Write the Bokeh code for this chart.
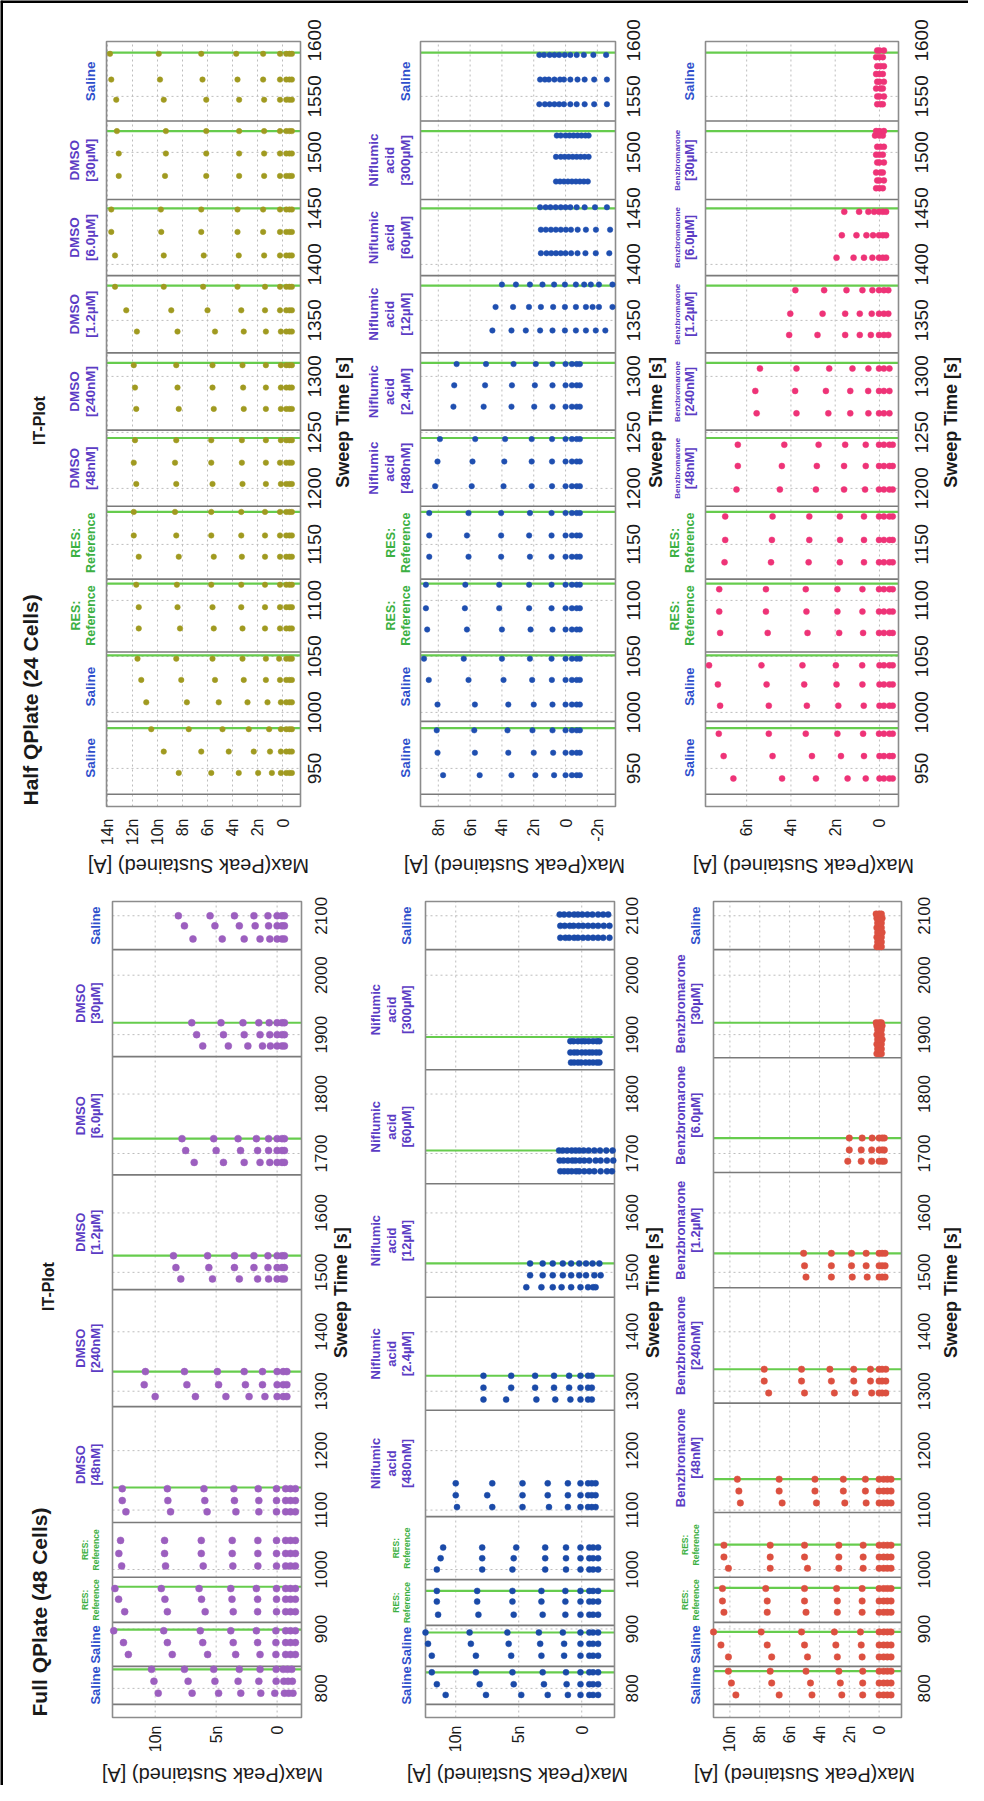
import math
from bokeh.plotting import figure
from bokeh.models import Range1d, ColumnDataSource
from bokeh.core.properties import value
from bokeh.embed import file_html
from bokeh.resources import INLINE

FONT = "Liberation Sans"
SALINE_C = "#2f4fcc"
RES_C = "#3cb043"
DRUG_C = "#5b3cc4"
GREEN_LINE = "#66cc4d"
FACET_LINE = "#7a7a7a"
FRAME_C = "#8c8c8c"
GRID_C = "#bdbdbd"
INK = "#1a1a1a"

# ---------------- axes ----------------
FULL_TIME_TICKS = [800, 900, 1000, 1100, 1200, 1300, 1400, 1500, 1600, 1700, 1800, 1900, 2000, 2100]
HALF_TIME_TICKS = [950, 1000, 1050, 1100, 1150, 1200, 1250, 1300, 1350, 1400, 1450, 1500, 1550, 1600]
FULL_TIME_RANGE = (751, 2124)
HALF_TIME_RANGE = (916, 1599)

FULL_PURPLE_TICKS = [0, 5, 10]
FULL_BLUE_TICKS = [0, 5, 10]
FULL_RED_TICKS = [0, 2, 4, 6, 8, 10]
HALF_OLIVE_TICKS = [0, 2, 4, 6, 8, 10, 12, 14]
HALF_BLUE_TICKS = [-2, 0, 2, 4, 6, 8]
HALF_PINK_TICKS = [0, 2, 4, 6]

FULL_PURPLE_RANGE = (13.5, -2.0)
FULL_BLUE_RANGE = (12.4, -2.6)
FULL_RED_RANGE = (11.1, -1.5)
HALF_OLIVE_RANGE = (14.08, -1.44)
HALF_BLUE_RANGE = (9.12, -3.14)
HALF_PINK_RANGE = (7.86, -0.86)

# ---------------- facets ----------------
FULL_PURPLE_LABELS = ["Saline", "Saline", "RES: Reference", "RES: Reference", "DMSO [48nM]",
                      "DMSO [240nM]", "DMSO [1.2µM]", "DMSO [6.0µM]", "DMSO [30µM]", "Saline"]
FULL_BLUE_LABELS = ["Saline", "Saline", "RES: Reference", "RES: Reference", "Niflumic acid [480nM]",
                    "Niflumic acid [2.4µM]", "Niflumic acid [12µM]", "Niflumic acid [60µM]",
                    "Niflumic acid [300µM]", "Saline"]
FULL_RED_LABELS = ["Saline", "Saline", "RES: Reference", "RES: Reference", "Benzbromarone [48nM]",
                   "Benzbromarone [240nM]", "Benzbromarone [1.2µM]", "Benzbromarone [6.0µM]",
                   "Benzbromarone [30µM]", "Saline"]
HALF_OLIVE_LABELS = FULL_PURPLE_LABELS
HALF_BLUE_LABELS = FULL_BLUE_LABELS
HALF_PINK_LABELS = FULL_RED_LABELS

FULL_PURPLE_FACETS = [773, 837, 911, 987, 1079, 1274, 1471, 1664, 1863, 2043]
FULL_BLUE_FACETS = [773, 837, 906, 983, 1089, 1268, 1458, 1649, 1841, 2043]
FULL_RED_FACETS = [773, 837, 911, 987, 1096, 1280, 1474, 1668, 1861, 2043]
HALF_FACETS = [927, 992, 1054, 1119, 1184, 1252, 1321, 1390, 1458, 1528]

FULL_PURPLE_GREEN = [832, 899, 971, 1138, 1333, 1528, 1725, 1920]
FULL_BLUE_GREEN = [827, 894, 964, 1326, 1515, 1705, 1896]
FULL_RED_GREEN = [829, 895, 969, 1042, 1152, 1337, 1532, 1726, 1920]
HALF_GREEN = [986, 1051, 1115, 1179, 1245, 1312, 1381, 1450, 1519, 1589]

# ---------------- data: sweep time [s] and Max(Peak Sustained) [nA] per sweep ----------------
FULL_PURPLE_T = [792, 812, 832, 857, 877, 897, 929, 950, 968, 1006, 1027, 1049, 1097, 1116, 1136,
                 1291, 1311, 1333, 1489, 1508, 1528, 1685, 1705, 1725, 1881, 1900, 1920, 2061, 2083, 2100]
FULL_PURPLE_V = [
    [9.75, 6.97, 4.8, 2.98, 1.34, 0.19, -0.6, -0.95, -1.3],
    [10.1, 7.3, 5.1, 3.2, 1.5, 0.08, -0.55, -0.9, -1.25],
    [10.3, 7.6, 5.2, 3.1, 1.4, 0.08, -0.5, -0.85, -1.2],
    [12.2, 8.6, 5.7, 3.4, 1.4, 0.1, -0.7, -1.1, -1.5],
    [12.6, 9.0, 6.1, 3.6, 1.6, 0.1, -0.7, -1.1, -1.5],
    [13.4, 9.3, 6.3, 3.8, 1.7, 0.1, -0.7, -1.1, -1.5],
    [12.5, 9.0, 5.9, 3.6, 1.6, 0.05, -0.7, -1.1, -1.5],
    [13.0, 9.2, 6.2, 3.7, 1.6, 0.05, -0.7, -1.1, -1.5],
    [13.3, 9.5, 6.4, 3.8, 1.7, 0.05, -0.7, -1.1, -1.5],
    [12.75, 9.15, 6.06, 3.63, 1.58, 0.05, -0.7, -1.1, -1.5],
    [12.98, 9.23, 6.22, 3.68, 1.58, 0.05, -0.7, -1.1, -1.5],
    [12.84, 9.23, 6.22, 3.68, 1.58, 0.05, -0.7, -1.1, -1.5],
    [12.4, 8.74, 5.74, 3.38, 1.5, 0.05, -0.7, -1.1, -1.5],
    [12.7, 8.96, 5.93, 3.5, 1.5, 0.05, -0.7, -1.1, -1.5],
    [12.7, 9.0, 6.0, 3.55, 1.55, 0.05, -0.7, -1.1, -1.5],
    [10.0, 6.7, 4.2, 2.3, 1.0, 0.0, -0.5, -0.8],
    [10.9, 7.4, 4.8, 2.6, 1.2, 0.0, -0.5, -0.8],
    [10.8, 7.6, 4.9, 2.7, 1.2, 0.0, -0.5, -0.8],
    [7.9, 5.3, 3.1, 1.6, 0.7, 0.0, -0.4, -0.6],
    [8.3, 5.6, 3.5, 1.9, 0.75, 0.0, -0.4, -0.6],
    [8.5, 5.7, 3.5, 1.9, 0.75, 0.0, -0.4, -0.6],
    [6.8, 4.4, 2.7, 1.4, 0.6, 0.0, -0.4, -0.6],
    [7.5, 5.0, 3.0, 1.6, 0.7, 0.0, -0.4, -0.6],
    [7.8, 5.2, 3.2, 1.7, 0.7, 0.0, -0.4, -0.6],
    [6.1, 4.0, 2.4, 1.2, 0.55, 0.0, -0.4, -0.6],
    [6.6, 4.4, 2.7, 1.4, 0.6, 0.0, -0.4, -0.6],
    [7.0, 4.6, 2.8, 1.5, 0.65, 0.0, -0.4, -0.6],
    [6.9, 4.5, 2.7, 1.4, 0.6, 0.0, -0.4, -0.6],
    [7.6, 5.1, 3.1, 1.8, 0.7, 0.0, -0.4, -0.6],
    [8.1, 5.5, 3.5, 1.9, 0.75, 0.0, -0.4, -0.6],
]

FULL_BLUE_T = [789, 807, 827, 855, 875, 894, 924, 946, 964, 1000, 1019, 1037, 1105, 1125, 1145,
               1286, 1306, 1326, 1475, 1495, 1515, 1670, 1688, 1705, 1853, 1870, 1889, 2063, 2083, 2102]
FULL_BLUE_V = [
    [10.8, 7.6, 4.8, 2.7, 1.1, 0.1, -0.6, -0.9, -1.3],
    [11.5, 8.1, 5.4, 3.0, 1.2, 0.1, -0.6, -0.9, -1.3],
    [11.9, 8.4, 5.5, 3.1, 1.25, 0.1, -0.6, -0.9, -1.3],
    [11.9, 8.4, 5.6, 3.2, 1.4, 0.1, -0.6, -0.9, -1.3],
    [12.2, 8.8, 5.8, 3.3, 1.4, 0.1, -0.6, -0.9, -1.3],
    [12.4, 8.9, 5.9, 3.4, 1.5, 0.1, -0.6, -0.9, -1.3],
    [11.4, 8.2, 5.4, 3.1, 1.3, 0.1, -0.6, -0.9, -1.3],
    [11.5, 8.3, 5.5, 3.2, 1.3, 0.1, -0.6, -0.9, -1.3],
    [11.5, 8.3, 5.5, 3.2, 1.3, 0.1, -0.6, -0.9, -1.3],
    [11.5, 7.9, 5.5, 2.9, 1.25, 0.1, -0.6, -0.9, -1.3],
    [11.2, 7.9, 5.4, 2.9, 1.25, 0.1, -0.6, -0.9, -1.3],
    [11.0, 7.9, 5.2, 2.9, 1.25, 0.1, -0.6, -0.9, -1.3],
    [9.9, 7.1, 4.7, 2.6, 1.1, 0.1, -0.5, -0.8, -1.1],
    [10.0, 7.5, 4.7, 2.7, 1.1, 0.1, -0.5, -0.8, -1.1],
    [10.0, 7.1, 4.7, 2.7, 1.1, 0.1, -0.5, -0.8, -1.1],
    [7.8, 6.0, 3.6, 2.1, 0.9, 0.1, -0.5, -0.8],
    [7.8, 5.6, 3.7, 2.2, 1.0, 0.1, -0.5, -0.8],
    [7.8, 5.6, 3.7, 2.2, 1.0, 0.1, -0.5, -0.8],
    [4.4, 3.2, 2.3, 1.6, 0.84, 0.1, -0.5, -0.9, -1.1],
    [4.1, 3.1, 2.3, 1.5, 0.84, 0.2, -0.34, -1.0, -1.5],
    [4.1, 3.1, 2.3, 1.5, 0.84, 0.2, -0.34, -0.86, -1.4],
    [1.7, 1.4, 1.1, 0.8, 0.45, 0.2, -0.2, -0.6, -1.0, -1.5, -2.0, -2.4],
    [1.75, 1.45, 1.1, 0.75, 0.5, 0.15, -0.2, -0.6, -1.1, -1.5, -2.0, -2.5],
    [1.8, 1.5, 1.15, 0.8, 0.5, 0.2, -0.15, -0.55, -1.0, -1.45, -1.95, -2.45],
    [0.85, 0.6, 0.3, 0.05, -0.3, -0.6, -0.9, -1.2, -1.4],
    [0.9, 0.6, 0.35, 0.0, -0.3, -0.6, -0.85, -1.15, -1.4],
    [0.9, 0.65, 0.3, 0.0, -0.25, -0.55, -0.9, -1.2, -1.4],
    [1.7, 1.3, 1.0, 0.6, 0.3, -0.1, -0.5, -0.9, -1.3, -1.7, -2.2],
    [1.7, 1.35, 0.95, 0.65, 0.25, -0.1, -0.5, -0.9, -1.3, -1.75, -2.2],
    [1.75, 1.4, 1.0, 0.6, 0.3, -0.05, -0.45, -0.85, -1.3, -1.7, -2.1],
]

FULL_RED_T = [789, 809, 829, 853, 873, 895, 928, 947, 968, 1002, 1021, 1041, 1112, 1132, 1152,
              1297, 1317, 1337, 1492, 1511, 1532, 1687, 1706, 1726,
              1868, 1876, 1884, 1892, 1900, 1908, 1915, 1920,
              2048, 2056, 2064, 2072, 2080, 2088, 2096, 2103]
FULL_RED_V = [
    [9.6, 6.7, 4.5, 2.5, 1.1, 0.0, -0.3, -0.55, -0.8],
    [9.9, 7.2, 4.6, 2.6, 1.1, 0.0, -0.3, -0.55, -0.8],
    [10.1, 7.3, 4.9, 2.7, 1.1, 0.0, -0.3, -0.55, -0.8],
    [10.1, 7.2, 4.8, 2.8, 1.14, 0.0, -0.3, -0.55, -0.8],
    [10.6, 7.5, 5.0, 2.9, 1.2, 0.0, -0.3, -0.55, -0.8],
    [11.1, 7.9, 5.2, 3.0, 1.25, 0.0, -0.3, -0.55, -0.8],
    [10.4, 7.5, 4.9, 2.8, 1.14, 0.0, -0.3, -0.55, -0.8],
    [10.5, 7.5, 5.0, 2.8, 1.14, 0.0, -0.3, -0.55, -0.8],
    [10.5, 7.6, 5.0, 2.85, 1.14, 0.0, -0.3, -0.55, -0.8],
    [10.1, 7.3, 4.8, 2.7, 1.07, 0.0, -0.3, -0.55, -0.8],
    [10.4, 7.3, 5.0, 2.7, 1.07, 0.0, -0.3, -0.55, -0.8],
    [10.4, 7.3, 5.0, 2.7, 1.07, 0.0, -0.3, -0.55, -0.8],
    [9.3, 6.5, 4.2, 2.3, 0.87, 0.0, -0.3, -0.55, -0.8],
    [9.4, 6.7, 4.3, 2.4, 0.92, 0.0, -0.3, -0.55, -0.8],
    [9.5, 6.7, 4.3, 2.4, 0.92, 0.0, -0.3, -0.55, -0.8],
    [7.4, 5.0, 3.0, 1.6, 0.5, 0.0, -0.2, -0.45],
    [7.7, 5.2, 3.2, 1.7, 0.58, 0.0, -0.2, -0.45],
    [7.7, 5.2, 3.3, 1.7, 0.58, 0.0, -0.2, -0.45],
    [4.9, 3.2, 1.8, 0.8, 0.0, -0.2, -0.4],
    [5.0, 3.2, 1.85, 0.87, 0.0, -0.2, -0.4],
    [5.06, 3.2, 1.85, 0.87, 0.0, -0.2, -0.4],
    [2.1, 1.2, 0.5, 0.0, -0.2, -0.35],
    [2.0, 1.2, 0.5, 0.0, -0.2, -0.35],
    [2.0, 1.14, 0.47, 0.0, -0.2, -0.35],
    [0.15, 0.0, -0.15], [0.1, 0.0, -0.15], [0.15, -0.05, -0.15], [0.1, 0.0, -0.2],
    [0.15, 0.0, -0.15], [0.1, -0.05, -0.15], [0.15, 0.0, -0.2], [0.2, 0.0, -0.15],
    [0.15, 0.0, -0.15], [0.1, 0.0, -0.15], [0.15, -0.05, -0.15], [0.1, 0.0, -0.2],
    [0.15, 0.0, -0.15], [0.1, -0.05, -0.15], [0.15, 0.0, -0.2], [0.2, 0.0, -0.15],
]

HALF_OLIVE_T = [946, 965, 985, 1009, 1029, 1048, 1075, 1094, 1114, 1139, 1158, 1179, 1204, 1223, 1243,
                1271, 1290, 1310, 1340, 1359, 1380, 1408, 1429, 1449, 1479, 1499, 1519, 1547, 1565, 1588]
HALF_OLIVE_V = [
    [8.3, 5.7, 3.5, 1.95, 0.85, 0.13, -0.3, -0.55, -0.75],
    [9.5, 6.5, 4.3, 2.3, 1.0, 0.13, -0.3, -0.55, -0.75],
    [10.5, 7.5, 4.8, 2.7, 1.07, 0.13, -0.3, -0.55, -0.75],
    [10.9, 7.65, 5.1, 2.8, 1.2, 0.13, -0.3, -0.55, -0.75],
    [11.3, 8.1, 5.4, 3.1, 1.33, 0.2, -0.3, -0.55, -0.75],
    [11.6, 8.5, 5.6, 3.2, 1.33, 0.27, -0.3, -0.55, -0.75],
    [11.5, 8.2, 5.5, 3.2, 1.4, 0.2, -0.3, -0.55, -0.75],
    [11.5, 8.4, 5.6, 3.3, 1.4, 0.2, -0.3, -0.55, -0.75],
    [11.7, 8.45, 5.7, 3.3, 1.4, 0.2, -0.3, -0.55, -0.75],
    [11.5, 8.3, 5.5, 3.25, 1.4, 0.2, -0.3, -0.55, -0.75],
    [11.9, 8.5, 5.7, 3.3, 1.4, 0.2, -0.3, -0.55, -0.75],
    [11.9, 8.6, 5.7, 3.3, 1.4, 0.2, -0.3, -0.55, -0.75],
    [11.7, 8.5, 5.6, 3.2, 1.33, 0.13, -0.3, -0.55, -0.75],
    [11.9, 8.6, 5.7, 3.25, 1.33, 0.2, -0.3, -0.55, -0.75],
    [11.8, 8.5, 5.7, 3.25, 1.33, 0.13, -0.3, -0.55, -0.75],
    [11.7, 8.3, 5.5, 3.1, 1.33, 0.13, -0.3, -0.55, -0.75],
    [11.8, 8.4, 5.6, 3.15, 1.33, 0.13, -0.3, -0.55, -0.75],
    [11.9, 8.5, 5.6, 3.2, 1.33, 0.13, -0.3, -0.55, -0.75],
    [11.65, 8.4, 5.4, 3.1, 1.33, 0.13, -0.3, -0.55, -0.75],
    [12.5, 8.9, 6.0, 3.3, 1.4, 0.2, -0.3, -0.55, -0.75],
    [13.4, 9.5, 6.35, 3.6, 1.4, 0.2, -0.3, -0.55, -0.75],
    [13.4, 9.5, 6.3, 3.5, 1.47, 0.2, -0.3, -0.55, -0.75],
    [13.7, 9.7, 6.5, 3.6, 1.55, 0.2, -0.3, -0.55, -0.75],
    [13.7, 9.73, 6.5, 3.6, 1.55, 0.2, -0.3, -0.55, -0.75],
    [13.1, 9.4, 6.1, 3.47, 1.47, 0.2, -0.3, -0.55, -0.75],
    [13.1, 9.33, 6.1, 3.47, 1.47, 0.2, -0.3, -0.55, -0.75],
    [13.25, 9.33, 6.1, 3.47, 1.47, 0.2, -0.3, -0.55, -0.75],
    [13.3, 9.5, 6.1, 3.47, 1.47, 0.2, -0.3, -0.55, -0.75],
    [13.7, 9.8, 6.4, 3.6, 1.55, 0.2, -0.3, -0.55, -0.75],
    [13.8, 9.9, 6.5, 3.7, 1.55, 0.2, -0.3, -0.55, -0.75],
]

HALF_BLUE_T = [944, 964, 984, 1007, 1029, 1048, 1074, 1093, 1114, 1139, 1158, 1178, 1202, 1224, 1244,
               1273, 1292, 1311, 1341, 1362, 1382, 1410, 1431, 1451, 1474, 1496, 1515, 1543, 1565, 1587]
HALF_BLUE_V = [
    [7.7, 5.4, 3.4, 1.9, 0.72, 0.0, -0.4, -0.7, -0.9],
    [8.05, 5.7, 3.6, 2.0, 0.78, 0.0, -0.4, -0.7, -0.9],
    [8.1, 5.74, 3.65, 2.08, 0.82, 0.0, -0.4, -0.7, -0.9],
    [8.05, 5.7, 3.6, 2.0, 0.82, 0.0, -0.4, -0.7, -0.9],
    [8.6, 6.1, 3.9, 2.1, 0.86, 0.0, -0.4, -0.7, -0.9],
    [8.9, 6.4, 4.0, 2.24, 0.88, 0.0, -0.4, -0.7, -0.9],
    [8.7, 6.2, 4.0, 2.2, 0.82, 0.0, -0.4, -0.7, -0.9],
    [8.78, 6.33, 4.17, 2.29, 0.88, 0.0, -0.4, -0.7, -0.9],
    [8.78, 6.3, 4.17, 2.29, 0.88, 0.0, -0.4, -0.7, -0.9],
    [8.57, 6.1, 4.05, 2.24, 0.88, 0.0, -0.4, -0.7, -0.9],
    [8.57, 6.2, 4.05, 2.29, 0.88, 0.0, -0.4, -0.7, -0.9],
    [8.57, 6.1, 4.05, 2.24, 0.88, 0.0, -0.4, -0.7, -0.9],
    [8.2, 5.9, 3.9, 2.13, 0.85, 0.0, -0.4, -0.7, -0.9],
    [8.05, 5.85, 3.85, 2.13, 0.85, 0.0, -0.4, -0.7, -0.9],
    [7.9, 5.68, 3.8, 2.13, 0.85, 0.0, -0.4, -0.7, -0.9],
    [7.05, 5.15, 3.4, 1.97, 0.82, 0.0, -0.4, -0.7, -0.9],
    [7.0, 5.06, 3.37, 1.93, 0.82, 0.0, -0.4, -0.7, -0.9],
    [6.85, 5.0, 3.27, 1.87, 0.82, 0.0, -0.4, -0.7, -0.9],
    [4.6, 3.4, 2.5, 1.6, 0.82, 0.04, -0.65, -1.28, -1.9, -2.5],
    [4.4, 3.3, 2.3, 1.55, 0.78, 0.04, -0.65, -1.28, -1.7, -2.1, -2.95],
    [4.0, 3.12, 2.24, 1.45, 0.72, 0.04, -0.65, -1.17, -1.59, -2.1, -2.95],
    [1.55, 1.2, 0.9, 0.6, 0.3, 0.0, -0.35, -0.75, -1.25, -1.9, -2.75],
    [1.55, 1.24, 0.92, 0.61, 0.3, -0.02, -0.34, -0.76, -1.28, -1.91, -2.8],
    [1.6, 1.25, 0.95, 0.62, 0.3, 0.0, -0.3, -0.7, -1.2, -1.85, -2.6],
    [0.6, 0.35, 0.1, -0.15, -0.4, -0.65, -0.9, -1.15, -1.4],
    [0.6, 0.3, 0.05, -0.2, -0.45, -0.7, -0.95, -1.2, -1.45],
    [0.55, 0.3, 0.0, -0.25, -0.5, -0.75, -1.0, -1.25, -1.45],
    [1.65, 1.3, 1.0, 0.7, 0.4, 0.1, -0.3, -0.7, -1.2, -1.8, -2.6],
    [1.6, 1.3, 1.05, 0.7, 0.35, 0.1, -0.3, -0.75, -1.2, -1.8, -2.6],
    [1.65, 1.35, 1.0, 0.7, 0.4, 0.05, -0.3, -0.7, -1.15, -1.75, -2.55],
]

HALF_PINK_T = [941, 961, 981, 1006, 1025, 1042, 1071, 1090, 1110, 1134, 1154, 1175, 1199, 1220, 1239,
               1267, 1287, 1307, 1337, 1356, 1377, 1406, 1426, 1447,
               1468, 1475, 1482, 1491, 1498, 1505, 1515, 1519,
               1543, 1550, 1557, 1563, 1570, 1577, 1585, 1591]
HALF_PINK_V = [
    [6.6, 4.4, 2.87, 1.44, 0.62, 0.0, -0.2, -0.45, -0.6],
    [7.04, 4.83, 3.05, 1.74, 0.7, 0.0, -0.2, -0.45, -0.6],
    [7.26, 5.0, 3.33, 1.9, 0.74, 0.02, -0.2, -0.45, -0.6],
    [7.2, 5.0, 3.28, 1.86, 0.71, 0.0, -0.2, -0.45, -0.6],
    [7.3, 5.1, 3.4, 1.94, 0.77, 0.0, -0.2, -0.45, -0.6],
    [7.7, 5.33, 3.48, 1.97, 0.78, 0.0, -0.2, -0.45, -0.6],
    [7.2, 5.05, 3.25, 1.82, 0.74, 0.02, -0.2, -0.45, -0.6],
    [7.24, 5.13, 3.3, 1.9, 0.77, 0.02, -0.2, -0.45, -0.6],
    [7.24, 5.13, 3.33, 1.9, 0.77, 0.02, -0.2, -0.45, -0.6],
    [7.0, 4.9, 3.2, 1.79, 0.7, 0.02, -0.2, -0.45, -0.6],
    [6.97, 4.86, 3.17, 1.78, 0.7, 0.02, -0.2, -0.45, -0.6],
    [6.97, 4.83, 3.17, 1.79, 0.7, 0.02, -0.2, -0.45, -0.6],
    [6.46, 4.5, 2.87, 1.6, 0.65, 0.02, -0.2, -0.45, -0.6],
    [6.4, 4.41, 2.83, 1.6, 0.62, 0.02, -0.2, -0.45, -0.6],
    [6.4, 4.3, 2.75, 1.55, 0.62, 0.02, -0.2, -0.45, -0.6],
    [5.55, 3.75, 2.31, 1.32, 0.5, 0.02, -0.2, -0.45],
    [5.61, 3.81, 2.42, 1.32, 0.51, 0.02, -0.2, -0.45],
    [5.4, 3.75, 2.27, 1.22, 0.5, 0.02, -0.2, -0.45],
    [4.08, 2.8, 1.55, 0.89, 0.39, 0.02, -0.2, -0.4],
    [4.03, 2.57, 1.55, 0.89, 0.35, 0.02, -0.2, -0.4],
    [3.8, 2.5, 1.49, 0.77, 0.32, 0.02, -0.2, -0.4],
    [1.94, 1.17, 0.7, 0.32, 0.02, -0.15, -0.3],
    [1.7, 1.04, 0.59, 0.29, 0.02, -0.15, -0.3],
    [1.59, 0.92, 0.5, 0.24, 0.02, -0.15, -0.3],
    [0.15, 0.0, -0.15], [0.1, 0.0, -0.2], [0.15, -0.05, -0.15], [0.1, 0.0, -0.2],
    [0.15, 0.0, -0.15], [0.1, -0.05, -0.2], [0.2, 0.0, -0.15], [0.15, 0.0, -0.2],
    [0.1, -0.05, -0.15], [0.1, 0.0, -0.2], [0.15, -0.05, -0.15], [0.1, 0.0, -0.2],
    [0.15, 0.0, -0.15], [0.1, -0.05, -0.2], [0.15, 0.0, -0.15], [0.1, 0.0, -0.2],
]

FULL_SIZES = {"RES:": 8.5, "Reference": 8.5}
HALF_SIZES = {"RES:": 12.5, "Reference": 12.5, "Benzbromarone": 8}

# ---------------- one canvas; every panel gets its own value scale, each block its own time scale ----------------
W, H = 968, 1785
p = figure(width=W, height=H, x_range=Range1d(0, W), y_range=Range1d(0, H), title=None,
           output_backend="svg", toolbar_location=None, x_axis_location=None, y_axis_location=None,
           min_border_left=0, min_border_right=0, min_border_top=0, min_border_bottom=0)
p.outline_line_color = None
p.background_fill_color = "white"
p.border_fill_color = "white"
p.xgrid.visible = False
p.ygrid.visible = False


def fx(page_x):
    return page_x - 8


def fy(page_y):
    return 8 + H - page_y


def vtext(xs, ys, texts, size, color=INK, bold=False, align="center", angle=math.pi / 2, **kw):
    p.text(x=xs, y=ys, text=texts, angle=angle, text_font=value(FONT), text_font_size=f"{size}px",
           text_font_style="bold" if bold else "normal", text_color=color,
           text_align=align, text_baseline="middle", **kw)


def block(name, page_top, page_bottom, trange, tticks, tick_font, vstand, sweep_t):
    t0, t1 = trange
    b, t = fy(page_bottom), fy(page_top)
    s = (t1 - t0) / (t - b)
    p.extra_y_ranges[name] = Range1d(t0 - b * s, t0 + (H - b) * s)
    return dict(name=name, trange=trange, tticks=tticks, tick_font=tick_font, vstand=vstand,
                sweep_t=sweep_t)


def panel(blk, name, page_left, page_right, vrange, vticks, facets, greens, times, values, color, dot,
          labels, sizes, default_size, strip_off, tick_off, sweep_off):
    vl, vr = vrange
    left, right = fx(page_left), fx(page_right)
    s = (vr - vl) / (right - left)
    p.extra_x_ranges[name] = Range1d(vl - left * s, vl + (W - left) * s)
    kw = dict(x_range_name=name, y_range_name=blk["name"])
    t0, t1 = blk["trange"]
    tt = [t for t in blk["tticks"] if t0 <= t <= t1]
    # dotted grid
    p.segment(x0=vticks, x1=vticks, y0=[t0] * len(vticks), y1=[t1] * len(vticks),
              line_color=GRID_C, line_dash="2 3", line_width=1, **kw)
    p.segment(x0=[vl] * len(tt), x1=[vr] * len(tt), y0=tt, y1=tt,
              line_color=GRID_C, line_dash="2 3", line_width=1, **kw)
    # facet separators and green marks
    p.segment(x0=[vl] * len(facets), x1=[vr] * len(facets), y0=facets, y1=facets,
              line_color=FACET_LINE, line_width=1.6, **kw)
    p.segment(x0=[vl] * len(greens), x1=[vr] * len(greens), y0=greens, y1=greens,
              line_color=GREEN_LINE, line_width=2.2, **kw)
    # panel frame
    p.quad(left=[vl], right=[vr], bottom=[t0], top=[t1], fill_color=None,
           line_color=FRAME_C, line_width=1.6, **kw)
    # points
    xs, ys = [], []
    for t, vals in zip(times, values):
        for v in vals:
            xs.append(v)
            ys.append(t)
    p.scatter(x="v", y="t", source=ColumnDataSource(dict(v=xs, t=ys)), size=dot,
              fill_color=color, line_color=color, line_width=0.5, **kw)
    # value tick labels (below the panel)
    vtext(vticks, [t0] * len(vticks), ["0" if v == 0 else f"{v}n" for v in vticks], 16,
          align="right", y_offset=blk["vstand"], **kw)
    # time tick labels and axis title (right of the panel)
    tk = blk["tticks"]
    vtext([vr] * len(tk), tk, [str(t) for t in tk], blk["tick_font"], x_offset=tick_off, **kw)
    vtext([vr], [blk["sweep_t"]], ["Sweep Time [s]"], 18, bold=True, x_offset=sweep_off, **kw)
    # facet strip labels (left of the panel)
    sx, sy, st, ss, sc, so = [], [], [], [], [], []
    bounds = list(facets) + [t1]
    for i, lab in enumerate(labels):
        mid = (bounds[i] + bounds[i + 1]) / 2
        off = strip_off
        prev = None
        for w in reversed(lab.split(" ")):
            sz = sizes.get(w, default_size)
            if prev is not None:
                off -= (sz + prev) / 2 * 1.18
            sx.append(vl)
            sy.append(mid)
            st.append(w)
            ss.append(f"{sz}px")
            sc.append(SALINE_C if w == "Saline" else (RES_C if w in ("RES:", "Reference") else DRUG_C))
            so.append(off)
            prev = sz
    p.text(x="x", y="y", text="text", x_offset="off",
           source=ColumnDataSource(dict(x=sx, y=sy, text=st, size=ss, color=sc, off=so)),
           angle=math.pi / 2, text_font=value(FONT), text_font_size="size", text_font_style="bold",
           text_color="color", text_align="center", text_baseline="middle", **kw)


# ---------------- half plate (top block) ----------------
top = block("top", 49, 814, HALF_TIME_RANGE, HALF_TIME_TICKS, 19, 12, 1259)
panel(top, "olive", 114, 308, HALF_OLIVE_RANGE, HALF_OLIVE_TICKS, HALF_FACETS, HALF_GREEN,
      HALF_OLIVE_T, HALF_OLIVE_V, "#a09a20", 5.5, HALF_OLIVE_LABELS, HALF_SIZES, 13.5, -16, 14, 42)
panel(top, "hblue", 428, 623, HALF_BLUE_RANGE, HALF_BLUE_TICKS, HALF_FACETS, HALF_GREEN,
      HALF_BLUE_T, HALF_BLUE_V, "#1f4fb0", 5.5, HALF_BLUE_LABELS, HALF_SIZES, 13.5, -15, 18, 40)
panel(top, "pink", 713, 906, HALF_PINK_RANGE, HALF_PINK_TICKS, HALF_FACETS, HALF_GREEN,
      HALF_PINK_T, HALF_PINK_V, "#ee3377", 6, HALF_PINK_LABELS, HALF_SIZES, 13, -16, 23, 52)

# ---------------- full plate (bottom block) ----------------
bot = block("bot", 909, 1725, FULL_TIME_RANGE, FULL_TIME_TICKS, 17, 8, 1466)
panel(bot, "purple", 120, 309, FULL_PURPLE_RANGE, FULL_PURPLE_TICKS, FULL_PURPLE_FACETS, FULL_PURPLE_GREEN,
      FULL_PURPLE_T, FULL_PURPLE_V, "#9c5fbf", 7, FULL_PURPLE_LABELS, FULL_SIZES, 13, -17, 19, 39)
panel(bot, "fblue", 433, 622, FULL_BLUE_RANGE, FULL_BLUE_TICKS, FULL_BLUE_FACETS, FULL_BLUE_GREEN,
      FULL_BLUE_T, FULL_BLUE_V, "#1a4aa8", 6, FULL_BLUE_LABELS, FULL_SIZES, 13, -19, 17, 38)
panel(bot, "red", 721, 909, FULL_RED_RANGE, FULL_RED_TICKS, FULL_RED_FACETS, FULL_RED_GREEN,
      FULL_RED_T, FULL_RED_V, "#dc5040", 6.5, FULL_RED_LABELS, FULL_SIZES, 13, -18, 22, 49)

# ---------------- titles and shared axis labels ----------------
vtext([fx(38)], [fy(813)], ["Half QPlate (24 Cells)"], 21, bold=True, align="left")
vtext([fx(47)], [fy(428)], ["IT-Plot"], 16, bold=True)
vtext([fx(47)], [fy(1724)], ["Full QPlate (48 Cells)"], 21, bold=True, align="left")
vtext([fx(56)], [fy(1294)], ["IT-Plot"], 16, bold=True)
vtext([fx(206), fx(522), fx(811)], [fy(873)] * 3, ["Max(Peak Sustained) [A]"] * 3, 20, angle=math.pi)
vtext([fx(220), fx(525), fx(812)], [fy(1782)] * 3, ["Max(Peak Sustained) [A]"] * 3, 20, angle=math.pi)

# outer border of the original figure (top and left edges)
p.segment(x0=[0, 1], x1=[W, 1], y0=[H - 1, H], y1=[H - 1, 0], line_color="black", line_width=3)

open("out.html", "w", encoding="utf-8").write(file_html(p, INLINE, title="IT-Plot"))
